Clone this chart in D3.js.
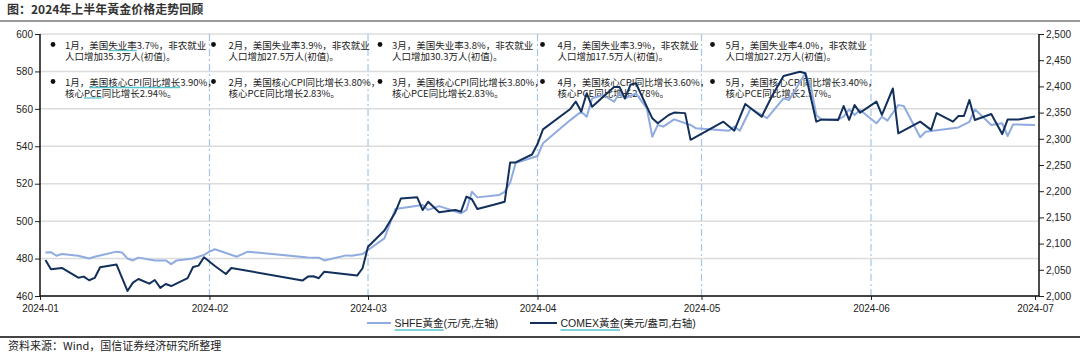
<!DOCTYPE html>
<html>
<head>
<meta charset="utf-8">
<script src="https://cdn.jsdelivr.net/npm/d3@7"></script>
<style>
  body { margin: 0; background: #fff; }
  svg { display: block; }
  .note text { text-spacing-trim: space-all; }
</style>
</head>
<body>
<div id="chart"></div>
<script>
// Step 1: data
var shfeDates = ["2024-01-02","2024-01-03","2024-01-04","2024-01-05","2024-01-08","2024-01-10","2024-01-11","2024-01-15","2024-01-16","2024-01-17","2024-01-18","2024-01-19","2024-01-22","2024-01-24","2024-01-25","2024-01-26","2024-01-29","2024-01-31",
  "2024-02-01","2024-02-02","2024-02-06","2024-02-08","2024-02-19","2024-02-21","2024-02-22","2024-02-26","2024-02-27","2024-02-29",
  "2024-03-01","2024-03-04","2024-03-06","2024-03-11","2024-03-12","2024-03-14","2024-03-18","2024-03-19","2024-03-20","2024-03-21","2024-03-25","2024-03-26","2024-03-27","2024-03-28",
  "2024-04-01","2024-04-02","2024-04-07","2024-04-09","2024-04-10","2024-04-11","2024-04-13","2024-04-15","2024-04-16","2024-04-17","2024-04-19","2024-04-21","2024-04-22","2024-04-23","2024-04-24","2024-04-26","2024-04-29","2024-04-30",
  "2024-05-06","2024-05-07","2024-05-08","2024-05-10","2024-05-13","2024-05-16","2024-05-17","2024-05-20","2024-05-21","2024-05-22","2024-05-23","2024-05-26","2024-05-27","2024-05-28","2024-05-29","2024-05-30",
  "2024-06-02","2024-06-03","2024-06-04","2024-06-06","2024-06-07","2024-06-10","2024-06-11","2024-06-17","2024-06-19","2024-06-20","2024-06-23","2024-06-25","2024-06-26","2024-06-27","2024-07-01"];
var shfeValues = [483.3,483.4,481.5,482.4,481.5,480.0,481.0,483.7,483.3,480.0,479.0,480.5,479.0,479.0,477.0,479.0,480.0,482.0,
  483.7,485.0,481.0,483.7,480.6,480.5,479.0,481.7,481.5,482.4,
  484.6,490.8,506.5,508.6,506.0,508.0,504.2,506.0,515.7,512.7,514.0,515.7,520.5,531.0,
  534.8,541.6,554.0,558.5,555.8,565.6,567.4,563.8,568.3,565.6,568.3,560.3,545.1,551.4,550.5,554.4,551.4,549.6,
  548.3,550.5,548.3,560.3,555.0,565.6,564.7,579.0,571.8,556.7,554.0,554.4,555.8,559.8,556.7,559.4,
  552.3,555.8,553.7,562.0,561.5,544.8,547.8,550.1,553.1,559.8,551.4,552.3,545.5,551.7,551.4];

var comexDates = ["2024-01-02","2024-01-03","2024-01-05","2024-01-08","2024-01-09","2024-01-10","2024-01-11","2024-01-12","2024-01-15","2024-01-17","2024-01-18","2024-01-19","2024-01-21","2024-01-22","2024-01-23","2024-01-24","2024-01-25","2024-01-28","2024-01-29","2024-01-30","2024-01-31",
  "2024-02-02","2024-02-04","2024-02-05","2024-02-18","2024-02-19","2024-02-20","2024-02-21","2024-02-22","2024-02-28","2024-02-29",
  "2024-03-01","2024-03-04","2024-03-06","2024-03-07","2024-03-10","2024-03-11","2024-03-12","2024-03-14","2024-03-17","2024-03-18","2024-03-19","2024-03-20","2024-03-21","2024-03-24","2024-03-26","2024-03-27","2024-03-28","2024-03-31",
  "2024-04-01","2024-04-02","2024-04-07","2024-04-08","2024-04-09","2024-04-10","2024-04-11","2024-04-15","2024-04-16","2024-04-17","2024-04-18","2024-04-19","2024-04-22","2024-04-23","2024-04-25","2024-04-26","2024-04-28","2024-04-29",
  "2024-05-05","2024-05-07","2024-05-09","2024-05-12","2024-05-14","2024-05-16","2024-05-19","2024-05-20","2024-05-22","2024-05-23","2024-05-26","2024-05-27","2024-05-28","2024-05-29","2024-05-30",
  "2024-06-02","2024-06-03","2024-06-05","2024-06-06","2024-06-10","2024-06-12","2024-06-13","2024-06-16","2024-06-17","2024-06-18","2024-06-19","2024-06-20","2024-06-23","2024-06-25","2024-06-26","2024-06-28","2024-07-01"];
var comexValues = [2068.8,2051,2053.5,2035,2037,2030,2034.5,2055,2060,2009.6,2025.5,2032.5,2023.6,2030.6,2015.4,2023,2019,2034,2055.4,2058,2074,
  2057.3,2042,2053.5,2029.4,2037,2037.7,2034,2046.5,2039,2053,
  2094,2125,2160,2186,2188.4,2164,2180,2160,2164,2161,2189.6,2184.6,2166,2174,2180,2255,2255,2270,
  2290,2318,2357,2371,2352,2387,2361,2399,2399,2377,2403,2406,2339,2329.6,2345.5,2350,2349,2298,
  2332.7,2315.5,2366.4,2342,2383.6,2420,2428,2425,2332.7,2337,2336,2362.6,2336,2364.5,2350,
  2371,2345.5,2396,2310.5,2332.7,2317,2349,2332.7,2343.5,2343.5,2374,2336,2347.4,2309,2337,2337,2342.5];

var monthTicks = ["2024-01-01","2024-02-01","2024-03-01","2024-04-01","2024-05-01","2024-06-01","2024-07-01"];
var leftTicks = [460, 480, 500, 520, 540, 560, 580, 600];
var rightTicks = [2000, 2050, 2100, 2150, 2200, 2250, 2300, 2350, 2400, 2450, 2500];

var noteMonths = ["2024-01-01","2024-02-01","2024-03-01","2024-04-01","2024-05-01"];
var jobNotes = [
  ["1月，美国失业率3.7%，非农就业", "人口增加35.3万人(初值)。"],
  ["2月，美国失业率3.9%，非农就业", "人口增加27.5万人(初值)。"],
  ["3月，美国失业率3.8%，非农就业", "人口增加30.3万人(初值)。"],
  ["4月，美国失业率3.9%，非农就业", "人口增加17.5万人(初值)。"],
  ["5月，美国失业率4.0%，非农就业", "人口增加27.2万人(初值)。"]
];
var priceNotes = [
  ["1月，美国核心CPI同比增长3.90%，", "核心PCE同比增长2.94%。"],
  ["2月，美国核心CPI同比增长3.80%，", "核心PCE同比增长2.83%。"],
  ["3月，美国核心CPI同比增长3.80%，", "核心PCE同比增长2.83%。"],
  ["4月，美国核心CPI同比增长3.60%，", "核心PCE同比增长2.78%。"],
  ["5月，美国核心CPI同比增长3.40%，", "核心PCE同比增长2.57%。"]
];
var seriesNames = ["SHFE黃金(元/克,左轴)", "COMEX黃金(美元/盎司,右轴)"];
var titleText = "图：2024年上半年黃金价格走势回顾";
var sourceText = "资料来源：Wind，国信证券经济研究所整理";

// Step 2: canvas and scales
var w = 1080, h = 352;
var plotL = 40, plotR = 1039, plotT = 34, plotB = 296;
var latin = "'Liberation Sans', Arial, 'Noto Sans CJK SC', sans-serif";
var cjk = "'Noto Sans CJK SC', 'Liberation Sans', sans-serif";
var lightBlue = "#8fabe0", navy = "#12305b", cyan = "#56c3cf";

var parse = d3.timeParse("%Y-%m-%d");
var shfe = shfeDates.map(function (d, i) { return { date: parse(d), value: shfeValues[i] }; });
var comex = comexDates.map(function (d, i) { return { date: parse(d), value: comexValues[i] }; });

var svg = d3.select("#chart").append("svg")
    .attr("width", w)
    .attr("height", h);

var x = d3.scaleTime()
    .domain([parse("2024-01-01"), parse("2024-07-01")])
    .range([plotL, 1035]);
var yL = d3.scaleLinear().domain([460, 600]).range([plotB, plotT]);
var yR = d3.scaleLinear().domain([2000, 2500]).range([plotB, plotT]);

// title, separators, source
svg.append("text").attr("x", 7).attr("y", 14)
    .attr("font-family", cjk).attr("font-size", 12).attr("font-weight", "bold")
    .attr("fill", "#333").text(titleText);
svg.append("line").attr("x1", 0).attr("x2", w).attr("y1", 21).attr("y2", 21)
    .attr("stroke", "#999").attr("stroke-width", 2);
svg.append("line").attr("x1", 0).attr("x2", w).attr("y1", 337).attr("y2", 337)
    .attr("stroke", "#444").attr("stroke-width", 2);
svg.append("text").attr("x", 8).attr("y", 350)
    .attr("font-family", cjk).attr("font-size", 11)
    .attr("fill", "#222").text(sourceText);

// Step 3: grid
svg.append("g").selectAll("line")
    .data(leftTicks)
    .enter().append("line")
    .attr("x1", plotL).attr("x2", plotR)
    .attr("y1", function (d) { return yL(d); })
    .attr("y2", function (d) { return yL(d); })
    .attr("stroke", "#dcdcdc").attr("stroke-width", 1.5);

svg.append("g").selectAll("line")
    .data(monthTicks.slice(1, 6))
    .enter().append("line")
    .attr("x1", function (d) { return x(parse(d)); })
    .attr("x2", function (d) { return x(parse(d)); })
    .attr("y1", plotT).attr("y2", plotB)
    .attr("stroke", "#a3c6e8").attr("stroke-width", 1.2)
    .attr("stroke-dasharray", "7,3,2,3");

// Step 4: notes (under the lines, like the reference)
var bulletDx = [13, 4, 12, 5, 11];
var textDx = [25, 19, 24, 20, 24];
var notes = svg.append("g").attr("class", "note")
    .attr("font-family", cjk).attr("font-size", 9.5).attr("fill", "#222");

function underline(textSel, word, dy) {
  var node = textSel.node();
  var s = node.textContent;
  var i = s.indexOf(word);
  if (i < 0) return;
  var a = node.getExtentOfChar(i);
  var b = node.getExtentOfChar(i + word.length - 1);
  var yy = +textSel.attr("y") + dy;
  svg.append("line").attr("x1", a.x).attr("x2", b.x + b.width)
      .attr("y1", yy).attr("y2", yy)
      .attr("stroke", cyan).attr("stroke-width", 1.3);
}

[[jobNotes, 45], [priceNotes, 82]].forEach(function (row) {
  row[0].forEach(function (lines, i) {
    var x0 = x(parse(noteMonths[i]));
    notes.append("circle").attr("cx", x0 + bulletDx[i]).attr("cy", row[1] - 0.5)
        .attr("r", 2.4).attr("fill", "#111");
    lines.forEach(function (t, j) {
      notes.append("text")
          .attr("x", x0 + textDx[i])
          .attr("y", row[1] + j * 10.5)
          .attr("dominant-baseline", "central")
          .text(t);
    });
  });
});

var noteTexts = notes.selectAll("text").nodes();
underline(d3.select(noteTexts[0]), "失业率", 5.5);
underline(d3.select(noteTexts[10]), "美国核心CPI同比增长", 5.5);
underline(d3.select(noteTexts[11]), "PCE", 5.5);

// Step 5: lines
var lineL = d3.line()
    .x(function (d) { return x(d.date); })
    .y(function (d) { return yL(d.value); });
var lineR = d3.line()
    .x(function (d) { return x(d.date); })
    .y(function (d) { return yR(d.value); });

svg.append("path").datum(shfe)
    .attr("fill", "none").attr("stroke", lightBlue).attr("stroke-width", 2)
    .attr("stroke-linejoin", "round")
    .attr("d", lineL);
svg.append("path").datum(comex)
    .attr("fill", "none").attr("stroke", navy).attr("stroke-width", 2)
    .attr("stroke-linejoin", "round")
    .attr("d", lineR);

// Step 6: axes
function styleAxis(g) {
  g.select(".domain").remove();
  g.selectAll("text").attr("font-family", latin).attr("font-size", 10).attr("fill", "#222");
  g.selectAll(".tick line").attr("stroke", "#222");
}

svg.append("g")
    .attr("transform", "translate(" + plotL + ",0)")
    .call(d3.axisLeft(yL).tickValues(leftTicks).tickSize(5).tickPadding(2))
    .call(styleAxis);

svg.append("g")
    .attr("transform", "translate(" + plotR + ",0)")
    .call(d3.axisRight(yR).tickValues(rightTicks).tickSize(5).tickPadding(2).tickFormat(d3.format(",")))
    .call(styleAxis);

svg.append("g")
    .attr("transform", "translate(0," + plotB + ")")
    .call(d3.axisBottom(x).tickValues(monthTicks.map(parse)).tickSize(4).tickPadding(5)
        .tickFormat(d3.timeFormat("%Y-%m")))
    .call(styleAxis);

svg.append("path")
    .attr("d", "M" + plotL + "," + plotT + "V" + plotB + "H" + plotR + "V" + plotT)
    .attr("fill", "none").attr("stroke", "#111").attr("stroke-width", 1.5);

// Step 7: legend
var legendItems = [
  { name: seriesNames[0], color: lightBlue, x1: 367, x2: 391, word: "SHFE黃金" },
  { name: seriesNames[1], color: navy, x1: 530, x2: 557, word: "COMEX黃金" }
];
legendItems.forEach(function (d) {
  svg.append("line").attr("x1", d.x1).attr("x2", d.x2).attr("y1", 323).attr("y2", 323)
      .attr("stroke", d.color).attr("stroke-width", 2);
  var t = svg.append("text").attr("x", d.x2 + 3.5).attr("y", 323)
      .attr("dominant-baseline", "central")
      .attr("font-family", latin).attr("font-size", 10.5).attr("fill", "#222")
      .text(d.name);
  underline(t, d.word, 7);
});
</script>
</body>
</html>
